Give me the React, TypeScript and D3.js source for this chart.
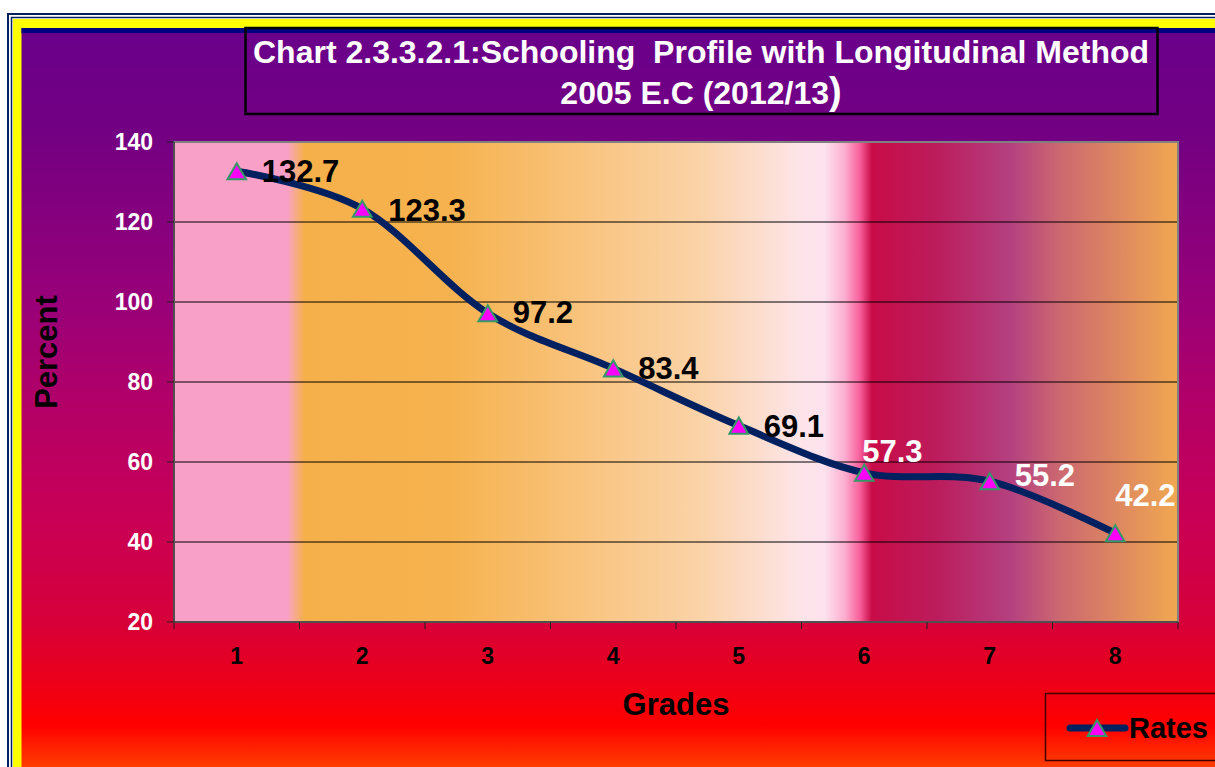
import React from "react";
import * as d3 from "d3";

const grades = ["1", "2", "3", "4", "5", "6", "7", "8"];
const rates = [132.7, 123.3, 97.2, 83.4, 69.1, 57.3, 55.2, 42.2];
const yTicks = [20, 40, 60, 80, 100, 120, 140];
const labelColors = ["#000", "#000", "#000", "#000", "#000", "#fff", "#fff", "#fff"];
const labelOffsets: [number, number][] = [
  [25, 0], [26, 1], [25, -1], [25, -1], [25, 0], [-2, -22], [25, -6], [0, -38],
];

const W = 1215, H = 767;
const plot = { left: 174, right: 1178, top: 142, bottom: 622 };

export default function App() {
  const x = d3.scaleBand<string>().domain(grades).range([plot.left, plot.right]).padding(0);
  const y = d3.scaleLinear().domain([20, 140]).range([plot.bottom, plot.top]);
  const cx = (g: string) => (x(g) as number) + x.bandwidth() / 2;
  const line = d3
    .line<number>()
    .x((_, i) => cx(grades[i]))
    .y((d) => y(d))
    .curve(d3.curveCardinal.tension(0));
  const triSize = 150;
  const tri = d3.symbol().type(d3.symbolTriangle).size(triSize)() as string;
  // shift so the triangle's bounding box (not its centroid) sits on the point
  const triH = Math.sqrt((triSize * 4) / Math.sqrt(3)) * (Math.sqrt(3) / 2);
  const triShift = triH / 6;
  const font = "Arial, 'Liberation Sans', sans-serif";

  return (
    <div style={{ position: "fixed", left: 0, top: 0 }}>
      <svg width={W} height={H} style={{ display: "block" }} fontFamily={font}>
        <defs>
          <linearGradient id="bg" x1="0" y1="0" x2="0" y2="1">
            <stop offset="0" stopColor="#5c0090" />
            <stop offset="0.01" stopColor="#6a008a" />
            <stop offset="0.146" stopColor="#740082" />
            <stop offset="0.364" stopColor="#9a0078" />
            <stop offset="0.5" stopColor="#b40066" />
            <stop offset="0.636" stopColor="#c80056" />
            <stop offset="0.772" stopColor="#d6003a" />
            <stop offset="0.84" stopColor="#e8001e" />
            <stop offset="0.909" stopColor="#ff0000" />
            <stop offset="1" stopColor="#ff6600" />
          </linearGradient>
          <linearGradient id="pg" x1="0" y1="0" x2="1" y2="0">
            <stop offset="0" stopColor="#f9a0c8" />
            <stop offset="0.113" stopColor="#f9a0c8" />
            <stop offset="0.118" stopColor="#f8a8a0" />
            <stop offset="0.13" stopColor="#f5b04a" />
            <stop offset="0.275" stopColor="#f6b24e" />
            <stop offset="0.524" stopColor="#fbd3a8" />
            <stop offset="0.623" stopColor="#fde4e8" />
            <stop offset="0.648" stopColor="#fde2ee" />
            <stop offset="0.668" stopColor="#fcaed0" />
            <stop offset="0.683" stopColor="#f8609c" />
            <stop offset="0.695" stopColor="#c80c48" />
            <stop offset="0.76" stopColor="#bc1c5c" />
            <stop offset="0.833" stopColor="#b44080" />
            <stop offset="0.882" stopColor="#cc6870" />
            <stop offset="1" stopColor="#f0a850" />
          </linearGradient>
        </defs>
        {/* frame */}
        <rect x={0} y={0} width={W} height={H} fill="#fff" />
        <rect x={8} y={14} width={W} height={H} fill="none" stroke="#002060" strokeWidth={2} />
        <rect x={11.5} y={17.5} width={W} height={H} fill="none" stroke="#002060" strokeWidth={1.5} />
        <rect x={13} y={19} width={W} height={H} fill="#ffff00" />
        <rect x={21.5} y={28} width={W} height={H} fill="url(#bg)" />
        <rect x={21.5} y={28} width={W} height={5} fill="#000080" />

        {/* title */}
        <rect x={245.5} y={28} width={912} height={86} fill="none" stroke="#000" strokeWidth={2.5} />
        <text x={701} y={63} textAnchor="middle" fill="#fff" fontWeight="bold" fontSize={32} style={{ whiteSpace: "pre" }}>
          {"Chart 2.3.3.2.1:Schooling  Profile with Longitudinal Method"}
        </text>
        <text x={701} y={104} textAnchor="middle" fill="#fff" fontWeight="bold" fontSize={32}>
          2005 E.C (2012/13<tspan fontSize={38}>)</tspan>
        </text>

        {/* plot area */}
        <rect x={plot.left} y={plot.top} width={plot.right - plot.left} height={plot.bottom - plot.top} fill="url(#pg)" />
        {yTicks.slice(1, -1).map((t) => (
          <line key={t} x1={plot.left} x2={plot.right} y1={y(t)} y2={y(t)} stroke="#000" strokeWidth={1} />
        ))}
        <rect x={plot.left} y={plot.top} width={plot.right - plot.left} height={plot.bottom - plot.top} fill="none" stroke="#808080" strokeWidth={2} />
        <line x1={plot.left} x2={plot.right} y1={plot.bottom} y2={plot.bottom} stroke="#404040" strokeWidth={1.5} />
        <line x1={plot.left} x2={plot.left} y1={plot.top} y2={plot.bottom} stroke="#404040" strokeWidth={1.5} />
        {yTicks.map((t) => (
          <g key={t}>
            <line x1={plot.left - 7} x2={plot.left} y1={y(t)} y2={y(t)} stroke="#202020" strokeWidth={1} />
            <text x={153} y={y(t)} dy="0.36em" textAnchor="end" fill="#fff" fontWeight="bold" fontSize={23}>
              {t}
            </text>
          </g>
        ))}
        {grades.map((g, i) => (
          <g key={g}>
            <line x1={x(g) as number} x2={x(g) as number} y1={plot.bottom} y2={plot.bottom + 7} stroke="#202020" strokeWidth={1} />
            {i === grades.length - 1 && (
              <line x1={plot.right} x2={plot.right} y1={plot.bottom} y2={plot.bottom + 7} stroke="#202020" strokeWidth={1} />
            )}
            <text x={cx(g)} y={656} dy="0.36em" textAnchor="middle" fill="#000" fontWeight="bold" fontSize={23}>
              {g}
            </text>
          </g>
        ))}

        {/* axis titles */}
        <text transform="translate(57,352) rotate(-90)" textAnchor="middle" fill="#000" fontWeight="bold" fontSize={31}>
          Percent
        </text>
        <text x={676} y={715} textAnchor="middle" fill="#000" fontWeight="bold" fontSize={31}>
          Grades
        </text>

        {/* series */}
        <path d={line(rates) as string} fill="none" stroke="#002060" strokeWidth={7} strokeLinejoin="round" strokeLinecap="round" />
        {rates.map((v, i) => (
          <path key={i} d={tri} transform={`translate(${cx(grades[i])},${y(v) + triShift})`} fill="#ff00ff" stroke="#339966" strokeWidth={2} />
        ))}
        {rates.map((v, i) => (
          <text
            key={i}
            x={cx(grades[i]) + labelOffsets[i][0]}
            y={y(v) + labelOffsets[i][1]}
            dy="0.36em"
            fill={labelColors[i]}
            fontWeight="bold"
            fontSize={31}
          >
            {v.toFixed(1)}
          </text>
        ))}

        {/* legend */}
        <rect x={1045.5} y={693.5} width={200} height={67} fill="none" stroke="#400000" strokeWidth={1.5} />
        <line x1={1070} x2={1125} y1={728} y2={728} stroke="#002060" strokeWidth={7} strokeLinecap="round" />
        <path d={tri} transform={`translate(1097,${728 + triShift})`} fill="#ff00ff" stroke="#339966" strokeWidth={2} />
        <text x={1129} y={728} dy="0.36em" fill="#000" fontWeight="bold" fontSize={29}>
          Rates
        </text>
      </svg>
    </div>
  );
}
